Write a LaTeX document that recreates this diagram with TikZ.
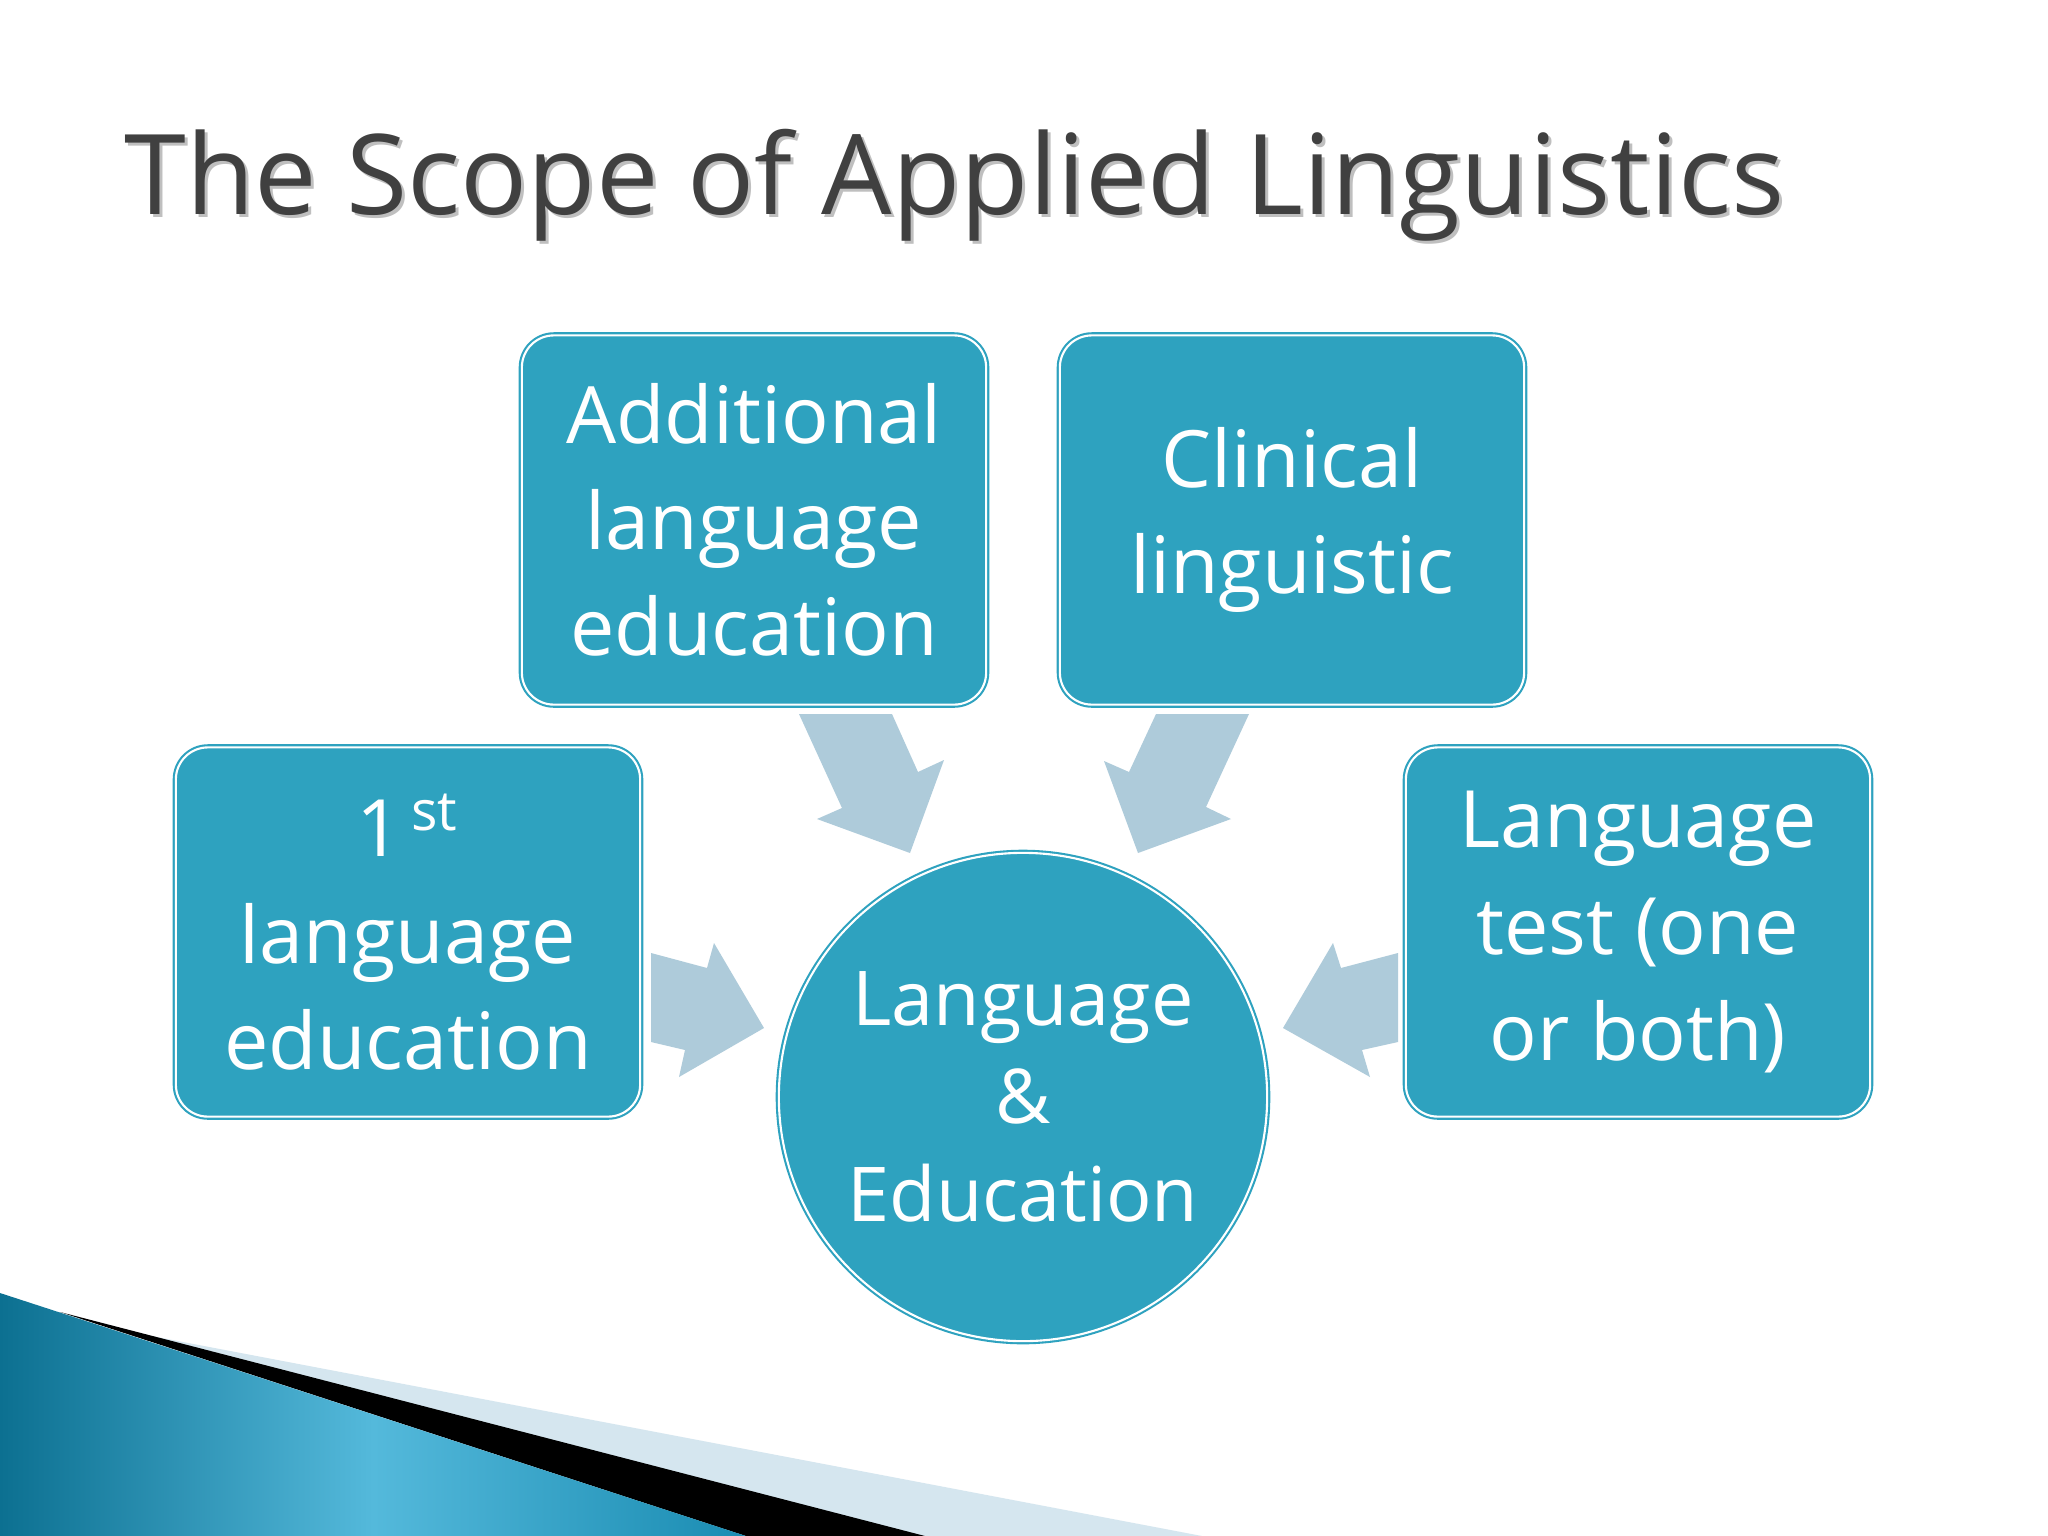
\documentclass[tikz,border=0pt]{standalone}
\usepackage{fontspec}
\setmainfont{Open Sans}
\definecolor{boxteal}{RGB}{46,162,191}
\definecolor{arrowblue}{RGB}{174,203,218}
\definecolor{titlegray}{RGB}{64,64,64}
\definecolor{paleblue}{RGB}{213,230,239}
\definecolor{deepblue}{RGB}{12,112,145}
\definecolor{lightblue}{RGB}{84,185,219}
\definecolor{midblue}{RGB}{26,140,178}
\begin{document}
\begin{tikzpicture}[x=0.01cm,y=-0.01cm,
  topicbox/.style={rectangle, rounded corners=0.32cm, fill=boxteal, draw=boxteal,
    double=white, double distance=0.6pt, line width=0.6pt,
    minimum width=4.64cm, minimum height=3.69cm, inner sep=0pt,
    text=white, align=center, font=\fontsize{22.5}{30.2}\selectfont},
  hubcircle/.style={circle, fill=boxteal, draw=boxteal,
    double=white, double distance=0.6pt, line width=0.6pt,
    minimum size=4.88cm, inner sep=0pt,
    text=white, align=center, font=\fontsize{21.5}{27.8}\selectfont},
  titletext/.style={anchor=base west, inner sep=0pt, font=\fontsize{31.7}{36}\selectfont},
  flowarrow/.style={fill=arrowblue, draw=none}]
\useasboundingbox (0,0) rectangle (2048,1536);
\fill[white] (0,0) rectangle (2048,1536);

% decoration bottom-left
\fill[paleblue] (120,1330) -- (1202,1536) -- (700,1536) -- cycle;
\fill[black] (60,1312) -- (925,1536) -- (746,1536) -- cycle;
\shade[left color=deepblue, right color=midblue, middle color=lightblue]
  (0,1293) -- (746,1536) -- (0,1536) -- cycle;

% title
\node[titletext, text=black!25] (titleshadow) at (127,217) {The Scope of Applied Linguistics};
\node[titletext, text=titlegray] (title) at (124,214) {The Scope of Applied Linguistics};

% arrows
\fill[flowarrow] (799,714) -- (892,714) -- (918,772) -- (944,760) -- (910,853) -- (817,819) -- (842,808) -- cycle;
\fill[flowarrow] (1156,714) -- (1249,714) -- (1206,807) -- (1231,819) -- (1138,853) -- (1104,761) -- (1129,772) -- cycle;
\fill[flowarrow] (651,953) -- (707,968) -- (714,943) -- (764,1028) -- (679,1077) -- (685,1050) -- (651,1042) -- cycle;
\fill[flowarrow] (1398,953) -- (1341,968) -- (1333,943) -- (1283,1028) -- (1370,1077) -- (1362,1050) -- (1398,1042) -- cycle;

% nodes
\node[topicbox] (addl) at (754,520) {Additional\\language\\education};
\node[topicbox] (clin) at (1292,520) {Clinical\\linguistic};
\node[topicbox] (first) at (408,932) {1\textsuperscript{\,st}\\language\\education};
\node[topicbox] (test) at (1638,932) {Language\\test (one\\or both)};
\node[hubcircle] (hub) at (1023,1097) {Language\\\&\\Education};
\end{tikzpicture}
\end{document}
